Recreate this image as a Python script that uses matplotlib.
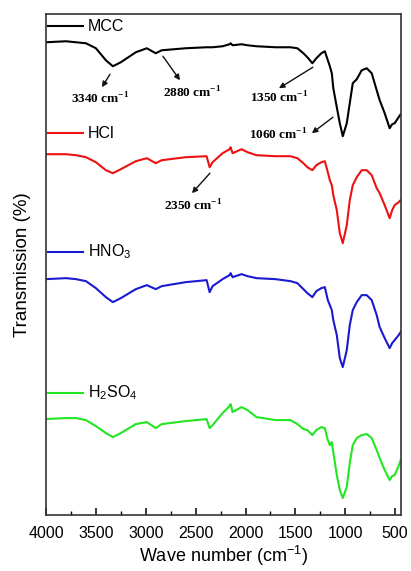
import numpy as np
import matplotlib
matplotlib.use('Agg')
import matplotlib.pyplot as plt
from matplotlib.lines import Line2D

plt.rcParams['font.family'] = ['Liberation Sans', 'DejaVu Sans']

# 波数 (cm-1)
wave = [4000, 3800, 3700, 3600, 3500, 3400, 3330, 3250, 3100, 2990, 2900, 2840,
        2600, 2390, 2360, 2330, 2230, 2160, 2150, 2130, 2040, 1980, 1890, 1700,
        1550, 1480, 1420, 1380, 1330, 1290, 1240, 1205, 1175, 1155, 1135, 1120,
        1085, 1055, 1025, 985, 955, 925, 885, 835, 785, 735, 685, 655, 605,
        555, 530, 505, 465, 445]

# 透过率 (任意单位, 已偏移)
mcc = [94.6, 94.8, 94.6, 94.4, 93.4, 91.0, 89.8, 90.6, 92.6, 93.4, 92.4, 93.0,
       93.4, 93.6, 93.6, 93.6, 93.8, 94.2, 94.4, 94.0, 94.2, 94.0, 93.8, 93.6,
       93.6, 93.4, 92.4, 91.6, 90.4, 91.4, 92.4, 92.8, 91.0, 89.8, 88.4, 85.4,
       81.6, 78.4, 75.8, 78.4, 82.4, 86.4, 87.2, 89.0, 89.4, 88.4, 85.0, 83.0,
       80.4, 77.4, 78.2, 78.4, 79.6, 80.2]
hcl = [72.2, 72.2, 72.0, 71.6, 70.6, 69.0, 68.4, 69.2, 70.8, 71.4, 70.4, 71.0,
       71.6, 71.8, 69.6, 70.6, 72.4, 73.2, 73.6, 72.4, 73.2, 72.6, 72.0, 71.8,
       71.8, 71.4, 70.4, 69.6, 69.0, 70.0, 70.6, 70.8, 68.6, 67.0, 66.0, 64.0,
       61.0, 56.4, 54.4, 58.0, 63.0, 66.0, 67.6, 69.0, 69.0, 68.0, 65.4, 64.4,
       62.0, 59.4, 61.0, 62.0, 62.6, 63.0]
hno3 = [47.2, 47.4, 47.2, 46.8, 45.4, 43.6, 42.6, 43.4, 45.2, 46.0, 45.2, 45.8,
        46.6, 47.0, 44.6, 45.8, 47.2, 48.0, 48.4, 47.6, 48.2, 47.8, 47.4, 47.2,
        46.8, 46.4, 45.2, 44.4, 43.6, 44.8, 45.4, 45.6, 43.0, 42.0, 41.0, 39.0,
        36.0, 31.4, 29.6, 33.0, 38.0, 41.0, 42.6, 44.0, 44.0, 43.0, 40.0, 37.6,
        35.4, 33.4, 34.4, 35.0, 36.0, 36.6]
h2so4 = [19.2, 19.4, 19.4, 19.0, 17.8, 16.4, 15.6, 16.4, 18.2, 18.6, 17.4, 18.2,
         18.8, 19.2, 17.4, 18.0, 20.4, 21.8, 22.2, 20.6, 21.6, 21.0, 19.6, 19.0,
         19.0, 18.2, 17.2, 17.0, 16.0, 17.0, 17.6, 17.4, 15.0, 14.0, 14.6, 12.6,
         8.0, 5.0, 3.4, 5.6, 10.4, 14.0, 15.4, 16.0, 16.2, 15.4, 13.0, 11.4,
         9.0, 7.0, 7.8, 8.0, 9.8, 11.0]

labels = ['MCC', 'HCl', 'HNO$_{\\mathregular{3}}$', 'H$_{\\mathregular{2}}$SO$_{\\mathregular{4}}$']
colors = ['#000000', '#ee1111', '#1a1ad0', '#22e622']
label_y = [0.976, 0.762, 0.525, 0.2435]

# 峰位标注: 文本, 箭头起点, 箭头终点, 文本位置
peaks = ['3340', '2880', '1350', '1060', '2350']
arrow_from = [(3359, 88.2), (2828, 91.8), (1325, 89.6), (1124, 79.6), (2357, 68.4)]
arrow_to = [(3439, 85.6), (2657, 87.0), (1665, 85.4), (1335, 76.4), (2537, 64.4)]
text_pos = [(3459, 83.2), (2537, 84.4), (1665, 83.4), (1675, 76.0), (2527, 61.8)]

fig = plt.figure(figsize=(4.11, 5.71), dpi=100)
ax = fig.add_axes([0.112, 0.098, 0.864, 0.877])

for y, c in zip([mcc, hcl, hno3, h2so4], colors):
    ax.plot(wave, y, color=c, lw=1.5)

for lab, c, ly in zip(labels, colors, label_y):
    ax.add_line(Line2D([0.006, 0.104], [ly, ly], transform=ax.transAxes, color=c, lw=1.5))
    ax.text(0.118, ly, lab, transform=ax.transAxes, fontsize=11.5, va='center', ha='left')

for p, a0, a1, tp in zip(peaks, arrow_from, arrow_to, text_pos):
    ax.annotate('', xy=a1, xytext=a0,
                arrowprops=dict(arrowstyle='-|>', color='#111111', lw=1.0,
                                mutation_scale=8, shrinkA=0, shrinkB=0))
    ax.text(tp[0], tp[1], p + ' cm$^{\\mathregular{-1}}$', ha='center', va='center',
            fontsize=9.5, fontweight='bold', family=['Liberation Serif', 'DejaVu Serif'])

ax.set_xlim(4000, 440)
ax.set_ylim(0, 100.2)
ax.set_xticks(np.arange(4000, 499, -500))
ax.set_xticks(np.arange(3750, 499, -500), minor=True)
ax.tick_params(axis='x', which='major', direction='in', length=5, width=1.1, labelsize=11.5, pad=8)
ax.tick_params(axis='x', which='minor', direction='in', length=3, width=1.0)
ax.set_yticks([])
for s in ax.spines.values():
    s.set_color('#333333')
    s.set_linewidth(1.2)

ax.set_xlabel('Wave number (cm$^{\\mathregular{-1}}$)', fontsize=13, labelpad=2)
ax.set_ylabel('Transmission (%)', fontsize=13.5, labelpad=11)

fig.savefig('out.png', dpi=100)
